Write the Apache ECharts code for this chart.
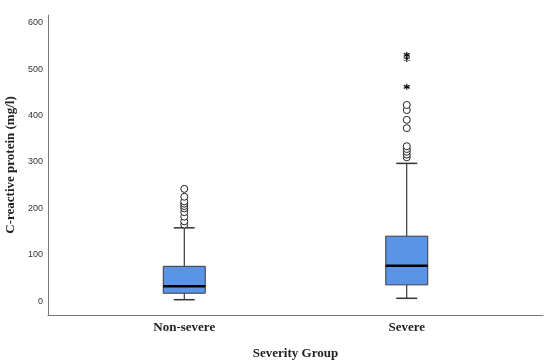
<!DOCTYPE html>
<html><head><meta charset="utf-8">
<script src="https://cdn.jsdelivr.net/npm/echarts@6/dist/echarts.min.js"></script>
<style>html,body{margin:0;padding:0;background:#fff}#c{width:550px;height:364px}</style>
</head><body><div id="c"></div>
<script>
const categories = ['Non-severe', 'Severe'];
// [low whisker, Q1, median, Q3, high whisker]
const boxNonSevere = [3, 17, 32, 75, 158];
const boxSevere = [6, 35, 76, 140, 297];
const outliersNonSevere = [165, 172, 182, 192, 200, 205, 210, 215, 225, 242];
const outliersSevere = [310, 316, 322, 328, 334, 373, 391, 412, 423];
const extremesSevere = [462, 522, 531];
const yTicks = [0, 100, 200, 300, 400, 500, 600];

const boxData = [[0].concat(boxNonSevere), [1].concat(boxSevere)];
const circleData = outliersNonSevere.map(v => [0, v]).concat(outliersSevere.map(v => [1, v]));
const starData = extremesSevere.map(v => [1, v]);

const serif = '"Liberation Serif", "DejaVu Serif", serif';
const yMin = -30, yMax = 617;

const chart = echarts.init(document.getElementById('c'));
chart.setOption({
  animation: false,
  grid: [
    {left: 48, right: 7, top: 15, bottom: 49, containLabel: false, outerBoundsMode: 'none'},
    {left: 73, width: 445, top: 15, bottom: 49, containLabel: false, outerBoundsMode: 'none'}
  ],
  xAxis: [
    {gridIndex: 0, type: 'category', data: [''], axisLine: {onZero: false, lineStyle: {color: '#777', width: 1}},
     axisTick: {show: false}, axisLabel: {show: false},
     name: 'Severity Group', nameLocation: 'middle', nameGap: 32,
     nameTextStyle: {fontFamily: serif, fontWeight: 'bold', fontSize: 13, color: '#222'}},
    {gridIndex: 1, type: 'category', data: categories, axisLine: {show: false, onZero: false}, axisTick: {show: false},
     axisLabel: {margin: 6, fontFamily: serif, fontWeight: 'bold', fontSize: 13, color: '#222'}}
  ],
  yAxis: [
    {gridIndex: 0, type: 'value', min: yMin, max: yMax,
     axisLine: {show: true, lineStyle: {color: '#777', width: 1}}, axisTick: {show: false}, splitLine: {show: false},
     axisLabel: {customValues: yTicks, margin: 5, fontFamily: '"Liberation Sans", Arial, sans-serif', fontSize: 9, color: '#333',
       formatter: v => (yTicks.indexOf(v) >= 0 ? String(v) : '')},
     name: 'C-reactive protein (mg/l)', nameLocation: 'middle', nameGap: 28,
     nameTextStyle: {fontFamily: serif, fontWeight: 'bold', fontSize: 13, color: '#222'}},
    {gridIndex: 1, type: 'value', min: yMin, max: yMax, show: false}
  ],
  series: [
    {
      type: 'custom', xAxisIndex: 1, yAxisIndex: 1, data: boxData,
      renderItem: function (params, api) {
        const i = api.value(0);
        const pLow = api.coord([i, api.value(1)]);
        const pQ1 = api.coord([i, api.value(2)]);
        const pMed = api.coord([i, api.value(3)]);
        const pQ3 = api.coord([i, api.value(4)]);
        const pHigh = api.coord([i, api.value(5)]);
        const cx = pLow[0];
        const bw = 42, cw = 21;
        const ln = (x1, y1, x2, y2, w, c) => ({type: 'line', shape: {x1, y1, x2, y2}, style: {stroke: c || '#111', lineWidth: w || 1}});
        return {type: 'group', children: [
          ln(cx, pHigh[1], cx, pQ3[1]),
          ln(cx, pLow[1], cx, pQ1[1]),
          ln(cx - cw / 2, pHigh[1], cx + cw / 2, pHigh[1], 1.5, '#333'),
          ln(cx - cw / 2, pLow[1], cx + cw / 2, pLow[1], 1.5, '#333'),
          {type: 'rect', shape: {x: cx - bw / 2, y: pQ3[1], width: bw, height: pQ1[1] - pQ3[1]},
           style: {fill: '#5a94e6', stroke: '#3a3a3a', lineWidth: 1}},
          ln(cx - bw / 2, pMed[1], cx + bw / 2, pMed[1], 2.5, '#000')
        ]};
      }
    },
    {
      type: 'scatter', xAxisIndex: 1, yAxisIndex: 1, data: circleData,
      symbol: 'circle', symbolSize: 7,
      itemStyle: {color: '#fff', borderColor: '#222', borderWidth: 1, opacity: 1}
    },
    {
      type: 'scatter', xAxisIndex: 1, yAxisIndex: 1, data: starData,
      symbol: 'path://M0,-5L0,5M-4.33,-2.5L4.33,2.5M-4.33,2.5L4.33,-2.5', symbolSize: 6,
      itemStyle: {color: 'none', borderColor: '#111', borderWidth: 1.2, opacity: 1}
    }
  ]
});
</script></body></html>
